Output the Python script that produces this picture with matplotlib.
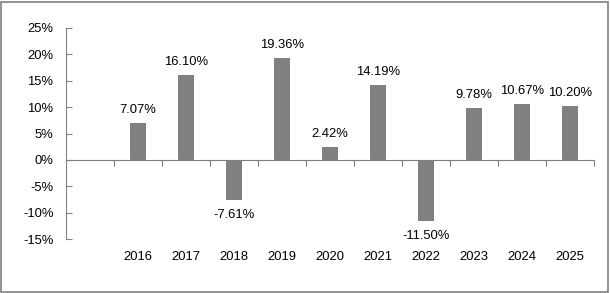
import matplotlib
matplotlib.use("Agg")
import matplotlib.pyplot as plt
from matplotlib.patches import Rectangle

categories = ["", "2016", "2017", "2018", "2019", "2020", "2021", "2022", "2023", "2024", "2025"]
values = [None, 7.07, 16.10, -7.61, 19.36, 2.42, 14.19, -11.50, 9.78, 10.67, 10.20]
yticks = [-15, -10, -5, 0, 5, 10, 15, 20, 25]

plt.rcParams['font.family'] = ['Liberation Sans', 'DejaVu Sans']
FS = 9.4
W, H = 610, 293
fig = plt.figure(figsize=(W / 100, H / 100), dpi=100)
ax = fig.add_axes([66 / W, 1 - 239 / H, (594 - 66) / W, (239 - 28) / H])

n = len(categories)
xs = list(range(n))
bx = [x for x, v in zip(xs, values) if v is not None]
bv = [v for v in values if v is not None]
ax.bar(bx, bv, width=0.33, color="#808080", zorder=2)

for x, v in zip(bx, bv):
    if v >= 0:
        ax.annotate(f"{v:.2f}%", (x, v), xytext=(0, 5), textcoords="offset points",
                    ha="center", va="bottom", fontsize=FS, color="#000000")
    else:
        ax.annotate(f"{v:.2f}%", (x, v), xytext=(0, -6.5), textcoords="offset points",
                    ha="center", va="top", fontsize=FS, color="#000000")

ax.set_xlim(-0.5, n - 0.5)
ax.set_ylim(-15, 25)
ax.set_yticks(yticks)
ax.set_yticklabels([f"{t}%" for t in yticks], fontsize=FS)
ax.tick_params(axis="y", direction="in", length=4, color="#808080", pad=9)

ax.spines["bottom"].set_position(("data", 0))
ax.spines["bottom"].set_color("#808080")
ax.spines["left"].set_color("#808080")
ax.spines["top"].set_visible(False)
ax.spines["right"].set_visible(False)
ax.set_xticks([x + 0.5 for x in xs])
ax.set_xticklabels([])
ax.tick_params(axis="x", direction="out", length=4, color="#808080")

for x, c in zip(xs, categories):
    if c:
        ax.annotate(c, (x, -15), xytext=(0, -8.5), textcoords="offset points",
                    ha="center", va="top", fontsize=FS, color="#000000")

fig.patches.append(Rectangle((1 / W, 1 / H), (W - 3) / W, (H - 3) / H, transform=fig.transFigure,
                             fill=False, edgecolor="#808080", linewidth=1.2))

fig.savefig("out.png", dpi=100)
